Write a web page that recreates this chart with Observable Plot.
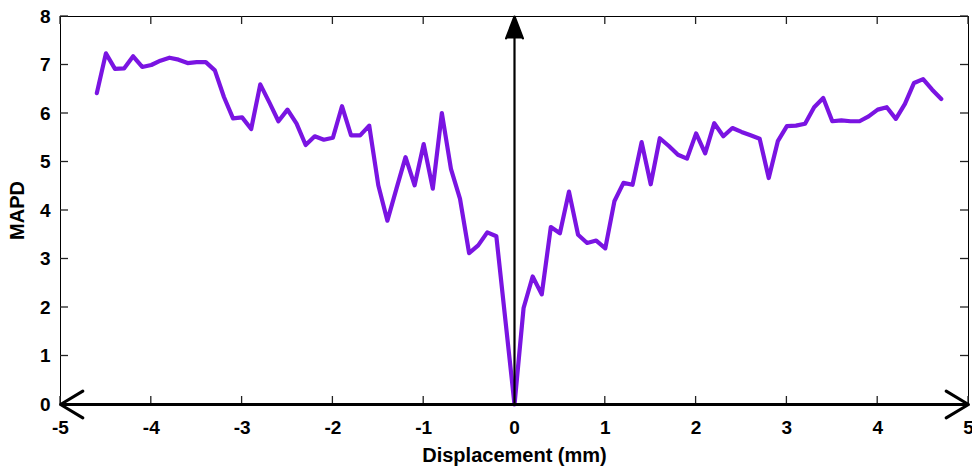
<!DOCTYPE html>
<html><head><meta charset="utf-8">
<script src="https://cdn.jsdelivr.net/npm/d3@7"></script>
<script src="https://cdn.jsdelivr.net/npm/@observablehq/plot@0.6"></script>
<style>body{margin:0;background:#fff} svg{display:block}</style>
</head><body><div id="chart"></div>
<script>
const displacement = [-4.6,-4.5,-4.4,-4.3,-4.2,-4.1,-4.0,-3.9,-3.8,-3.7,-3.6,-3.5,-3.4,-3.3,-3.2,-3.1,-3.0,-2.9,-2.8,-2.7,-2.6,-2.5,-2.4,-2.3,-2.2,-2.1,-2.0,-1.9,-1.8,-1.7,-1.6,-1.5,-1.4,-1.3,-1.2,-1.1,-1.0,-0.9,-0.8,-0.7,-0.6,-0.5,-0.4,-0.3,-0.2,0,
  0.1,0.2,0.3,0.4,0.5,0.6,0.7,0.8,0.9,1.0,1.1,1.2,1.3,1.4,1.5,1.6,1.7,1.8,1.9,2.0,2.1,2.2,2.3,2.4,2.5,2.6,2.7,2.8,2.9,3.0,3.1,3.2,3.3,3.4,3.5,3.6,3.7,3.8,3.9,4.0,4.1,4.2,4.3,4.4,4.5,4.6,4.7];
const mapd = [6.42,7.24,6.92,6.93,7.18,6.96,7.00,7.09,7.15,7.11,7.04,7.06,7.06,6.89,6.34,5.90,5.92,5.68,6.60,6.23,5.84,6.08,5.79,5.35,5.53,5.46,5.50,6.15,5.55,5.55,5.75,4.52,3.79,4.45,5.10,4.52,5.37,4.45,6.01,4.86,4.24,3.12,3.28,3.55,3.47,0,
  1.99,2.64,2.27,3.66,3.53,4.39,3.50,3.33,3.38,3.22,4.19,4.57,4.53,5.41,4.54,5.49,5.33,5.15,5.07,5.59,5.18,5.80,5.53,5.70,5.62,5.55,5.48,4.67,5.43,5.74,5.75,5.79,6.13,6.32,5.84,5.86,5.84,5.84,5.94,6.08,6.13,5.89,6.20,6.63,6.71,6.49,6.30];
const xTicks = [-5,-4,-3,-2,-1,0,1,2,3,4,5];
const yTicks = [0,1,2,3,4,5,6,7,8];
const xDomain = [-5, 5];
const yDomain = [0, 8];
const xLabel = "Displacement (mm)";
const yLabel = "MAPD";

const W = 972, H = 468, mL = 60, mR = 4, mT = 16, mB = 64, tick = 8;

const data = displacement.map((x, i) => ({x, y: mapd[i]}));
const origin = {x: 0, y: yDomain[0]};
const hArrows = xDomain.map(e => ({x1: origin.x, y1: origin.y, x2: e, y2: origin.y}));
const vArrow = [{x1: origin.x, y1: yDomain[0], x2: origin.x, y2: yDomain[1]}];
const noText = () => "";
const fmt = d => String(d);

// inward tick marks, placed through the plot's own scales
function inwardTicks(axis, side) {
  return (index, scales, values, dimensions) => {
    const {width, height, marginLeft, marginRight, marginTop, marginBottom} = dimensions;
    const g = d3.create("svg:g").attr("stroke", "#222").attr("stroke-width", 1.3);
    if (axis === "x") {
      const y0 = side === "bottom" ? height - marginBottom : marginTop;
      const dir = side === "bottom" ? -1 : 1;
      for (const t of xTicks) {
        const px = scales.x(t);
        g.append("line").attr("x1", px).attr("x2", px).attr("y1", y0).attr("y2", y0 + dir * tick);
      }
    } else {
      const x0 = side === "left" ? marginLeft : width - marginRight;
      const dir = side === "left" ? 1 : -1;
      for (const t of yTicks) {
        const py = scales.y(t);
        g.append("line").attr("y1", py).attr("y2", py).attr("x1", x0).attr("x2", x0 + dir * tick);
      }
    }
    return g.node();
  };
}

const chart = Plot.plot({
  width: W, height: H,
  marginLeft: mL, marginRight: mR, marginTop: mT, marginBottom: mB,
  style: {fontFamily: "'Liberation Sans', Arial, sans-serif", fontSize: "19px", fontWeight: "bold", color: "#000", background: "#fff"},
  x: {domain: xDomain},
  y: {domain: yDomain},
  marks: [
    Plot.frame({stroke: "#000", strokeWidth: 1}),
    inwardTicks("x", "bottom"),
    inwardTicks("x", "top"),
    inwardTicks("y", "left"),
    inwardTicks("y", "right"),
    Plot.axisX(xTicks, {anchor: "bottom", tickSize: 0, tickPadding: 16, tickFormat: fmt, label: null, fill: "#000"}),
    Plot.axisY(yTicks, {anchor: "left", tickSize: 0, tickPadding: 10, tickFormat: fmt, label: null, fill: "#000"}),
    Plot.axisX(xTicks, {anchor: "bottom", tickSize: 0, tickFormat: noText, label: xLabel, labelAnchor: "center", labelOffset: 57, labelArrow: "none", fontSize: 20, fill: "#000"}),
    Plot.axisY(yTicks, {anchor: "left", tickSize: 0, tickFormat: noText, label: yLabel, labelAnchor: "center", labelOffset: 51, labelArrow: "none", fontSize: 20, fill: "#000"}),
    Plot.line(data, {x: "x", y: "y", stroke: "#7a14e2", strokeWidth: 4.2}),
    Plot.arrow(hArrows, {x1: "x1", y1: "y1", x2: "x2", y2: "y2", stroke: "#000", strokeWidth: 3, headLength: 13, headAngle: 62}),
    Plot.arrow(vArrow, {x1: "x1", y1: "y1", x2: "x2", y2: "y2", stroke: "#000", fill: "#000", strokeWidth: 2.2, headLength: 16, headAngle: 42})
  ]
});
document.getElementById("chart").appendChild(chart);
</script>
</body></html>
